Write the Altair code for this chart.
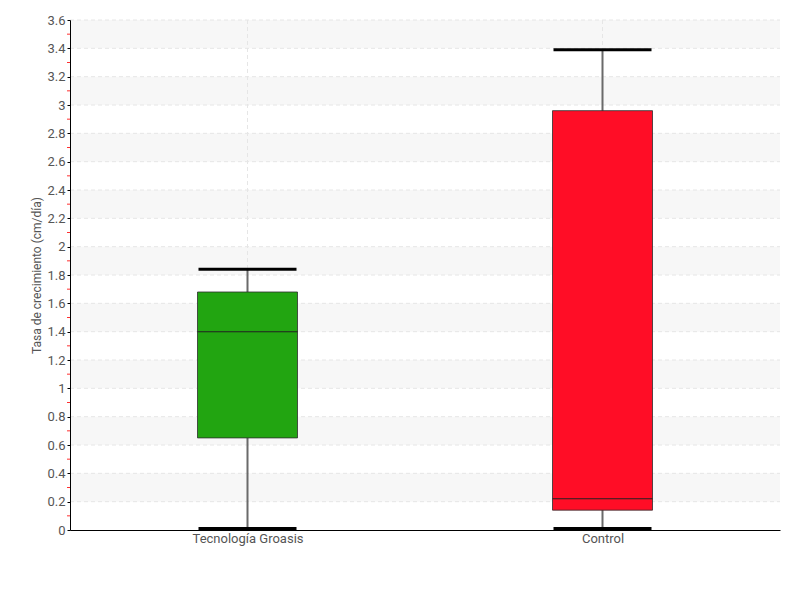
import altair as alt
import pandas as pd

categories = ["Tecnología Groasis", "Control"]
whisker_min = [0.01, 0.01]
q1 = [0.65, 0.14]
median = [1.40, 0.22]
q3 = [1.68, 2.96]
whisker_max = [1.84, 3.39]
colors = ["#22a511", "#ff0d26"]

y_ticks = [round(0.2 * i, 1) for i in range(19)]
minor_ticks = [round(0.1 + 0.2 * i, 1) for i in range(18)]
band_starts = [0.2, 0.6, 1.0, 1.4, 1.8, 2.2, 2.6, 3.0, 3.4]
band_ends = [0.4, 0.8, 1.2, 1.6, 2.0, 2.4, 2.8, 3.2, 3.6]

FONT = "Roboto"
W, H = 710, 510

df = pd.DataFrame({
    "cat": categories, "lo": whisker_min, "q1": q1, "med": median,
    "q3": q3, "hi": whisker_max, "color": colors,
})
bands = pd.DataFrame({"y": band_starts, "y2": band_ends})
minor = pd.DataFrame({"y": minor_ticks})
grid = pd.DataFrame({"y": y_ticks[1:]})

yscale = alt.Scale(domain=[0, 3.6], nice=False, zero=True)
xscale = alt.Scale(type="point", domain=categories, padding=0.5)
yaxis = alt.Axis(values=y_ticks, title="Tasa de crecimiento (cm/día)",
                 format=".1~f", labelOverlap=False, zindex=1,
                 grid=False, domainColor="black", tickColor="black", tickSize=3,
                 labelFont=FONT, labelFontSize=13, labelFontWeight="normal",
                 labelColor="#555", labelPadding=2,
                 titleFont=FONT, titleFontSize=12, titleFontWeight="normal",
                 titleColor="#555", titlePadding=3)


def Y(field):
    return alt.Y(field, scale=yscale, axis=yaxis, title="Tasa de crecimiento (cm/día)")


band_layer = alt.Chart(bands).mark_rect(color="#f7f7f7").encode(
    x=alt.value(0), x2=alt.value(W), y=Y("y:Q"), y2="y2:Q",
)

hgrid = alt.Chart(grid).mark_rule(color="#e6e6e6", strokeDash=[4, 3], strokeWidth=1).encode(
    x=alt.value(0), x2=alt.value(W), y=Y("y:Q"),
)

minor_layer = alt.Chart(minor).mark_rule(color="#ff3030", strokeWidth=1).encode(
    x=alt.value(-3), x2=alt.value(0), y=Y("y:Q"),
)

base = alt.Chart(df).encode(
    x=alt.X("cat:N", scale=xscale, sort=categories, title=None,
            axis=alt.Axis(labelAngle=0, grid=False, domainColor="black", ticks=False,
                          zindex=1, labelFont=FONT, labelFontSize=13,
                          labelFontWeight="normal", labelColor="#555", labelPadding=2)),
)

vgrid = base.mark_rule(color="#e6e6e6", strokeDash=[4, 3], strokeWidth=1).encode(
    y=alt.value(0), y2=alt.value(H))
whisk = base.mark_rule(color="#6a6a6a", strokeWidth=2).encode(y=Y("lo:Q"), y2="hi:Q")
box = base.mark_bar(size=100, stroke="#2e2e2e", strokeWidth=1, strokeOpacity=0.8).encode(
    y=Y("q1:Q"), y2="q3:Q", color=alt.Color("color:N", scale=None))
med = base.mark_tick(size=100, thickness=1, color="#222", opacity=1).encode(y=Y("med:Q"))
cap_hi = base.mark_tick(size=98, thickness=3, color="black", opacity=1).encode(y=Y("hi:Q"))
cap_lo = base.mark_tick(size=98, thickness=3, color="black", opacity=1).encode(y=Y("lo:Q"))

chart = alt.layer(band_layer, hgrid, minor_layer, vgrid, whisk, box, med, cap_hi, cap_lo).properties(
    width=W, height=H,
    autosize=alt.AutoSizeParams(type="none"),
    padding={"left": 62, "top": 12, "right": 10, "bottom": 50},
).configure_view(stroke=None).configure_axis(labelFlush=False)

chart.save("out.html", embed_options={"renderer": "svg", "actions": False})
